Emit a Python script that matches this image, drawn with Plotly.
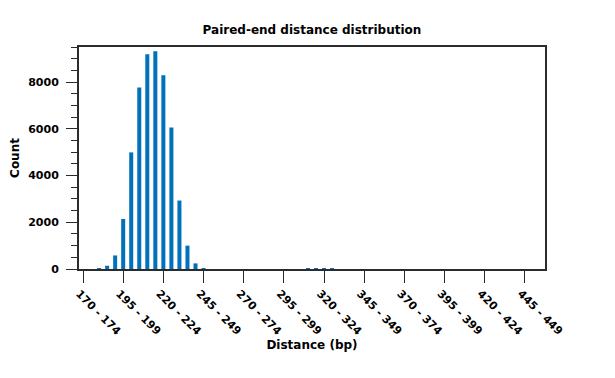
import plotly.graph_objects as go

bins = ["170 - 174", "175 - 179", "180 - 184", "185 - 189", "190 - 194", "195 - 199",
        "200 - 204", "205 - 209", "210 - 214", "215 - 219", "220 - 224", "225 - 229",
        "230 - 234", "235 - 239", "240 - 244", "245 - 249", "250 - 254", "255 - 259",
        "260 - 264", "265 - 269", "270 - 274", "275 - 279", "280 - 284", "285 - 289",
        "290 - 294", "295 - 299", "300 - 304", "305 - 309", "310 - 314", "315 - 319",
        "320 - 324", "325 - 329", "330 - 334", "335 - 339", "340 - 344", "345 - 349",
        "350 - 354", "355 - 359", "360 - 364", "365 - 369", "370 - 374", "375 - 379",
        "380 - 384", "385 - 389", "390 - 394", "395 - 399", "400 - 404", "405 - 409",
        "410 - 414", "415 - 419", "420 - 424", "425 - 429", "430 - 434", "435 - 439",
        "440 - 444", "445 - 449", "450 - 454", "455 - 459"]

counts = [0, 0, 40, 140, 580, 2140, 4990, 7770, 9190, 9320, 8290, 6050,
          2930, 1000, 240, 40, 0, 0, 0, 0, 0, 0, 0, 0,
          0, 0, 0, 0, 20, 20, 20, 20, 0, 0, 0, 0,
          0, 0, 0, 0, 0, 0, 0, 0, 0, 0, 0, 0,
          0, 0, 0, 0, 0, 0, 0, 0, 0, 0]

tick_labels = ["170 - 174", "195 - 199", "220 - 224", "245 - 249", "270 - 274", "295 - 299",
               "320 - 324", "345 - 349", "370 - 374", "395 - 399", "420 - 424", "445 - 449"]

y_ticks = [0, 2000, 4000, 6000, 8000]

FONT = "DejaVu Sans"
DARK = "#2b2b2b"

fig = go.Figure(go.Bar(x=bins, y=counts, marker=dict(color="#0071BA", line=dict(width=0))))

# page body has an 8px default margin: size and margins compensate for it
fig.update_layout(
    width=607, height=370,
    margin=dict(l=71, r=70, t=39, b=109),
    paper_bgcolor="white", plot_bgcolor="white",
    bargap=0.5,
    showlegend=False,
    font=dict(family=FONT, size=11, color="black", weight="bold"),
    title=dict(text="Paired-end distance distribution", x=0.5, xref="paper",
               y=1 - 22 / 370, yref="container", yanchor="middle", xanchor="center",
               font=dict(family=FONT, size=12, color="black", weight="bold")),
)

fig.update_xaxes(
    type="category", range=[-0.5, len(bins) - 0.5], automargin=False,
    tickmode="array", tickvals=tick_labels, ticktext=tick_labels,
    tickangle=45, ticks="outside", ticklen=12, tickwidth=1, tickcolor=DARK,
    ticklabelshift=-4,
    showline=True, linewidth=2, linecolor=DARK, mirror=True,
    showgrid=False, zeroline=False,
    tickfont=dict(family=FONT, size=11, color="black", weight="bold"),
    title=dict(text="Distance (bp)", standoff=4,
               font=dict(family=FONT, size=12, color="black", weight="bold")),
)

fig.update_yaxes(
    range=[0, 9500], automargin=False,
    tickmode="array", tickvals=y_ticks,
    ticks="outside", ticklen=11, tickwidth=1, tickcolor=DARK,
    ticklabelstandoff=5,
    minor=dict(dtick=500, ticks="outside", ticklen=6, tickwidth=1, tickcolor=DARK, showgrid=False),
    showline=True, linewidth=2, linecolor=DARK, mirror=True,
    showgrid=False, zeroline=False,
    tickfont=dict(family=FONT, size=11, color="black", weight="bold"),
    title=dict(text="Count", standoff=8,
               font=dict(family=FONT, size=12, color="black", weight="bold")),
)

fig.write_html("out.html")
